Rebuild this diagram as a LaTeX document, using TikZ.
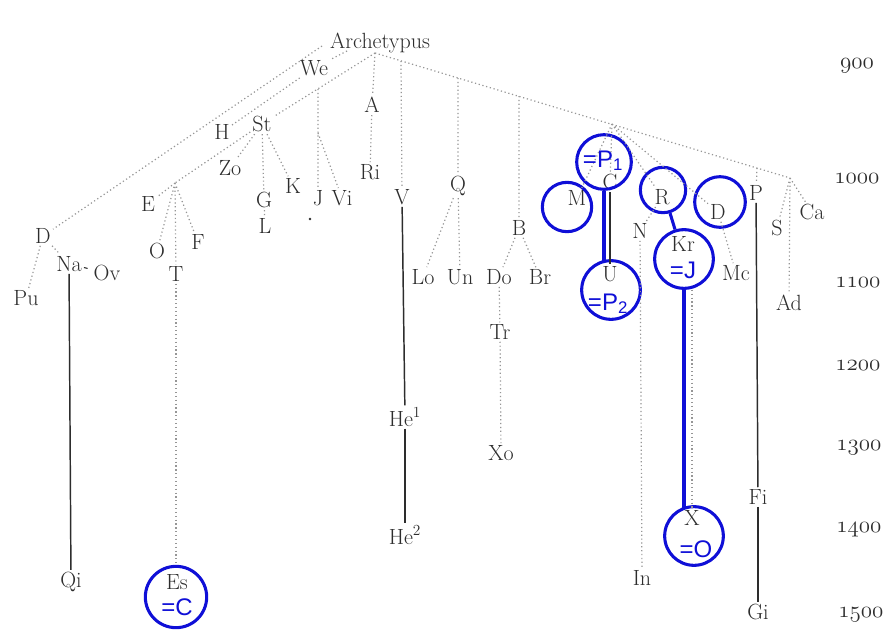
\documentclass[tikz,border=0pt]{standalone}
\usepackage{fontspec}
\newfontfamily\marksans{Liberation Sans}
\usetikzlibrary{calc}

\definecolor{inkgray}{RGB}{45,45,45}
\definecolor{dotgray}{RGB}{150,150,150}
\definecolor{markblue}{RGB}{15,15,215}

% old-style figures for the century scale
\newcommand{\yearnum}[1]{{\usefont{OML}{cmm}{m}{it}#1}}

\begin{document}
\begin{tikzpicture}[x=0.75pt, y=-0.75pt,
    lbl/.style={font=\fontsize{16.5}{16.5}\selectfont, text=inkgray, inner sep=1.5pt},
    yearlbl/.style={font=\fontsize{17}{17}\selectfont, text=inkgray, anchor=base},
    dotline/.style={draw=dotgray, line width=0.9pt, dash pattern=on 0.9pt off 2pt},
    inkline/.style={draw=inkgray, line width=1.1pt},
    bluering/.style={circle, draw=markblue, line width=2.3pt, inner sep=0pt},
    blueline/.style={draw=markblue, line width=2.3pt},
    bluetxt/.style={font=\marksans\fontsize{18}{18}\selectfont, text=markblue,
                    inner sep=0pt, anchor=base}]

\path[use as bounding box, fill=white] (0,0) rectangle (886,639);

% ── Archetypus and branch points ─────────────────────────────────
\node[lbl, anchor=base] (Arch) at (380,48) {Archetypus};
\coordinate (ar-d) at (322,46);
\coordinate (ar-h) at (347,51);
\coordinate (ar-m) at (375,53);
\coordinate (ar-end) at (790,178);
\coordinate (br-j) at (318,89);
\coordinate (br-vi) at (318,133);
\coordinate (br-e) at (175,183);
\coordinate (br-v) at (401,61);
\coordinate (br-q) at (458,78);
\coordinate (br-b) at (519,96);
\coordinate (br-c) at (612,124);
\coordinate (br-p) at (757,168);

% ── Left family ──────────────────────────────────────────────────
\node[lbl] (We) at (314,68) {We};
\node[lbl] (H) at (222,132) {H};
\node[lbl] (St) at (262,124) {St};
\node[lbl] (Zo) at (230,168) {Zo};
\node[lbl] (E) at (148,204) {E};
\node[lbl] (O) at (157,251) {O};
\node[lbl] (T) at (176,274) {T};
\node[lbl] (F) at (198,242) {F};
\node[lbl] (G) at (264,200) {G};
\node[lbl] (L) at (265,226) {L};
\node[lbl] (K) at (293,186) {K};
\node[lbl] (J) at (318,198) {J};
\node[lbl] (Vi) at (342,198) {Vi};
\node[circle, fill=inkgray, inner sep=0pt, minimum size=2.2pt] (Jdot) at (310,219) {};
\node[lbl] (Dl) at (43,236) {D};
\node[lbl] (Na) at (69,264) {Na};
\node[lbl] (Ov) at (107,273) {Ov};
\node[lbl] (Pu) at (26,298) {Pu};
\node[lbl] (Qi) at (71,582) {Qi};
\node[lbl] (Es) at (177,582) {Es};

% ── Middle family ────────────────────────────────────────────────
\node[lbl] (A) at (372,105) {A};
\node[lbl] (Ri) at (370,172) {Ri};
\node[lbl] (V) at (402,197) {V};
\node[lbl] (He1) at (405,417) {He\textsuperscript{1}};
\node[lbl] (He2) at (405,535) {He\textsuperscript{2}};
\node[lbl] (Q) at (458,186) {Q};
\node[lbl] (Lo) at (423,277) {Lo};
\node[lbl] (Un) at (460,277) {Un};
\node[lbl] (Do) at (499,277) {Do};
\node[lbl] (Br) at (540,277) {Br};
\node[lbl] (B) at (519,228) {B};
\node[lbl] (Tr) at (500,332) {Tr};
\node[lbl] (Xo) at (501,453) {Xo};

% ── Right family ─────────────────────────────────────────────────
\node[lbl] (M) at (577,198) {M};
\node[lbl] (C) at (610,182) {C};
\node[lbl] (U) at (610,274) {U};
\node[lbl] (R) at (662,197) {R};
\node[lbl] (N) at (640,231) {N};
\node[lbl] (Dr) at (718,212) {D};
\node[lbl] (Kr) at (683,244) {Kr};
\node[lbl] (Mc) at (736,273) {Mc};
\node[lbl] (X) at (692,518) {X};
\node[lbl] (In) at (642,578) {In};
\node[lbl] (P) at (756,193) {P};
\node[lbl] (Fi) at (758,497) {Fi};
\node[lbl] (Gi) at (758,612) {Gi};
\node[lbl] (S) at (777,228) {S};
\node[lbl] (Ca) at (812,212) {Ca};
\node[lbl] (Ad) at (789,303) {Ad};

% ── Century scale ────────────────────────────────────────────────
\node[yearlbl] (y900) at (857,68) {\yearnum{900}};
\node[yearlbl] (y1000) at (857,183) {\yearnum{1000}};
\node[yearlbl] (y1100) at (858,287) {\yearnum{1100}};
\node[yearlbl] (y1200) at (858,370) {\yearnum{1200}};
\node[yearlbl] (y1300) at (859,450) {\yearnum{1300}};
\node[yearlbl] (y1400) at (859,532) {\yearnum{1400}};
\node[yearlbl] (y1500) at (861,617) {\yearnum{1500}};

% ── Blue rings (placed first so the dotted lines can end on them) ─
\node[bluering, minimum size=41pt] (Cring) at (604,162) {};
\node[bluering, minimum size=37pt] (Mring) at (567,207) {};
\node[bluering, minimum size=34pt] (Rring) at (663,190) {};
\node[bluering, minimum size=38pt] (Dring) at (720,202) {};
\node[bluering, minimum size=44pt] (Krring) at (684,259) {};
\node[bluering, minimum size=44pt] (Uring) at (611,290) {};
\node[bluering, minimum size=44pt] (Xring) at (694,536) {};
\node[bluering, minimum size=46pt] (Esring) at (176,597) {};

% ── Dotted descent ───────────────────────────────────────────────
\draw[dotline] (ar-d) -- (Dl);
\draw[dotline] (ar-h) -- (We) -- (H);
\draw[dotline] (ar-m) -- (St);
\draw[dotline] (ar-m) -- (A) (A) -- (Ri);
\draw[dotline] (ar-m) -- (ar-end);
\draw[dotline] (br-j) -- (J) (br-vi) -- (Vi);
\draw[dotline] (St) -- (Zo) (St) -- (br-e);
\draw[dotline] (br-e) -- (E) (br-e) -- (O) (br-e) -- (T) (br-e) -- (F);
\draw[dotline] (St) -- (G) (G) -- (L) (St) -- (K);
\draw[dotline] (Dl) -- (Pu) (Dl) -- (Na);
\draw[dotline] (T) -- (Esring);
\draw[dotline] (br-v) -- (V);
\draw[dotline] (br-q) -- (Q) (Q) -- (Lo) (Q) -- (Un);
\draw[dotline] (br-b) -- (B) (B) -- (Do) (B) -- (Br);
\draw[dotline] (Do) -- (Tr) (Tr) -- (Xo);
\draw[dotline] (br-c) -- (M) (br-c) -- (C) (br-c) -- (R) (br-c) -- (Dr);
\draw[dotline] (R) -- (N) (N) -- (In);
\draw[dotline] (Krring.south -| X) -- (X);
\draw[dotline] (Dr) -- (Mc);
\draw[dotline] (br-p) -- (P);
\draw[dotline] (ar-end) -- (S) (ar-end) -- (Ca) (ar-end) -- (Ad);

% ── Solid descent ────────────────────────────────────────────────
\draw[inkline] (Na) -- (Qi);
\draw[inkline, line width=0.8pt, shorten >=3pt] (Na) -- (Ov);
\draw[inkline] (V) -- (He1);
\draw[inkline] (He1) -- (He2);
\draw[inkline] (C) -- (U);
\draw[inkline] (P) -- (Fi);
\draw[inkline] (Fi) -- (Gi);

% ── Blue identifications ─────────────────────────────────────────
\node[bluetxt] (Ceq) at (603,167) {=P\textsubscript{1}};
\node[bluetxt] (Ueq) at (608,310) {=P\textsubscript{2}};
\node[bluetxt] (Kreq) at (683,278) {=J};
\node[bluetxt] (Xeq) at (696,557) {=O};
\node[bluetxt] (Eseq) at (177,615) {=C};

\draw[blueline, shorten >=-1.5pt] (Cring.south) -- (Cring.south |- Uring.north);
\draw[blueline] (Rring) -- (Krring);
\draw[blueline, shorten >=-2pt] (Krring.south) -- (Krring.south |- Xring.north);

\end{tikzpicture}
\end{document}
